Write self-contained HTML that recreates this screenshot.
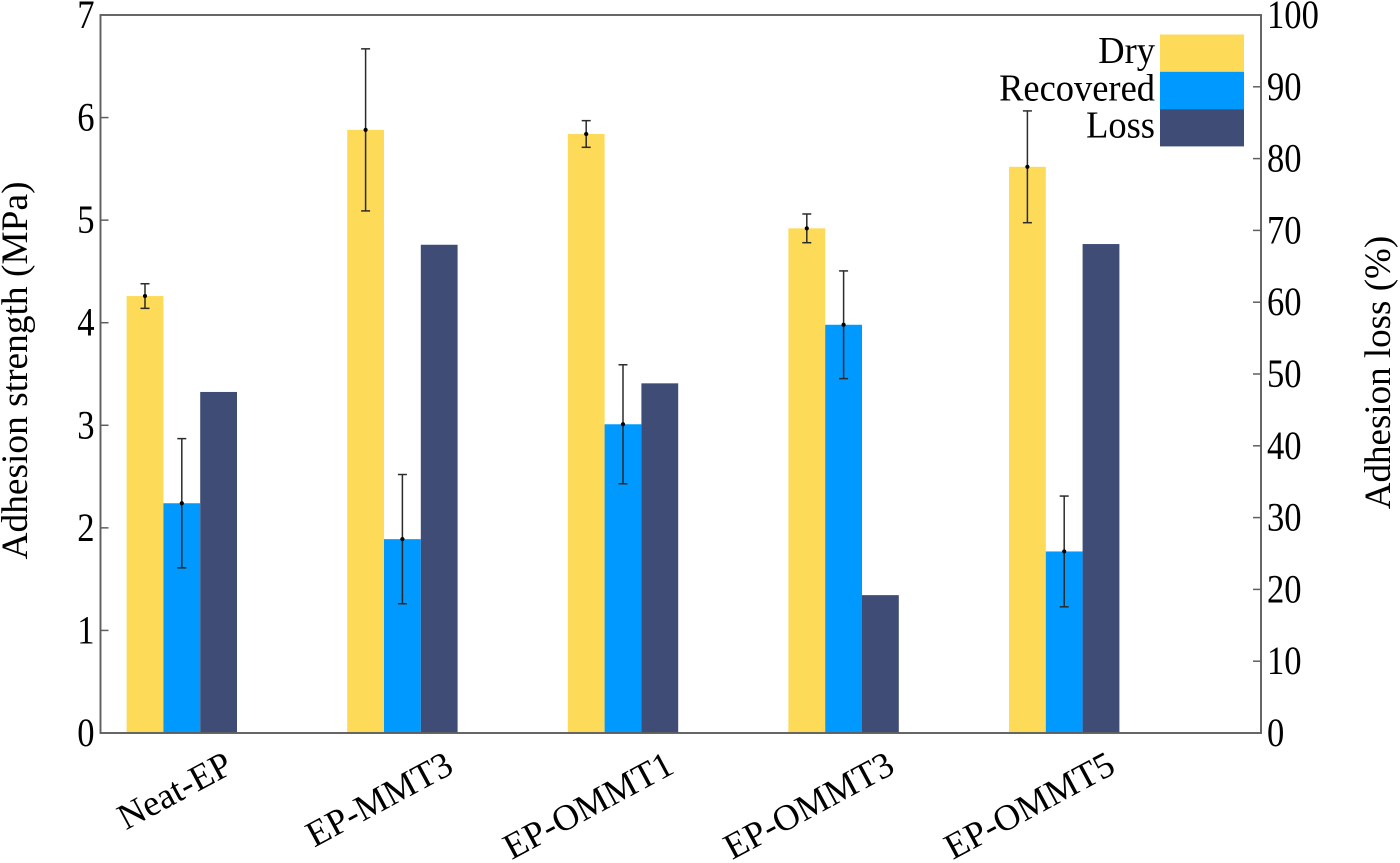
<!DOCTYPE html>
<html>
<head>
<meta charset="utf-8">
<style>
html,body{margin:0;padding:0;background:#fff;width:1400px;height:863px;overflow:hidden}
svg{display:block}
text{font-family:"Liberation Serif",serif;fill:#000}
</style>
</head>
<body>
<svg id="chart" width="1400" height="863" viewBox="0 0 1400 863" xmlns="http://www.w3.org/2000/svg"></svg>
<script>
const categories = ["Neat-EP", "EP-MMT3", "EP-OMMT1", "EP-OMMT3", "EP-OMMT5"];
const dryValues = [4.26, 5.88, 5.84, 4.92, 5.52];
const dryErrors = [0.12, 0.79, 0.13, 0.14, 0.545];
const recoveredValues = [2.24, 1.89, 3.01, 3.98, 1.77];
const recoveredErrors = [0.63, 0.63, 0.58, 0.525, 0.54];
const lossValues = [47.5, 68.0, 48.7, 19.2, 68.1];
const leftTicks = [0, 1, 2, 3, 4, 5, 6, 7];
const rightTicks = [0, 10, 20, 30, 40, 50, 60, 70, 80, 90, 100];
const legendLabels = ["Dry", "Recovered", "Loss"];

const svg = document.getElementById('chart');
const NS = 'http://www.w3.org/2000/svg';
const left = 100.5, right = 1261, top_ = 15, bottom = 733;
const yL = v => bottom - v / 7 * (bottom - top_);
const yR = v => bottom - v / 100 * (bottom - top_);
const xC = i => 181.8 + 220.6 * i;
const barW = 36.8;
const colors = ["#FDDA58", "#0099FF", "#3F4C75"];
const axisColor = "#5f5f5f";

function mk(tag, attrs, parent) {
  const el = document.createElementNS(NS, tag);
  for (const k in attrs) el.setAttribute(k, attrs[k]);
  (parent || svg).appendChild(el);
  return el;
}

categories.forEach((c, i) => {
  const slug = c.toLowerCase();
  const d = mk('rect', {x: xC(i) - 1.5 * barW, y: yL(dryValues[i]), width: barW, height: bottom - yL(dryValues[i]), fill: colors[0]});
  
  
  const r = mk('rect', {x: xC(i) - 0.5 * barW, y: yL(recoveredValues[i]), width: barW, height: bottom - yL(recoveredValues[i]), fill: colors[1]});
  
  
  const l = mk('rect', {x: xC(i) + 0.5 * barW, y: yR(lossValues[i]), width: barW, height: bottom - yR(lossValues[i]), fill: colors[2]});
  
  
});

function errorBar(cx, value, err, name) {
  const g = mk('g', {stroke: '#2b2b2b', 'stroke-width': 1.5, fill: 'none'});
  
  
  mk('line', {x1: cx, x2: cx, y1: yL(value + err), y2: yL(value - err)}, g);
  mk('line', {x1: cx - 4.5, x2: cx + 4.5, y1: yL(value + err), y2: yL(value + err)}, g);
  mk('line', {x1: cx - 4.5, x2: cx + 4.5, y1: yL(value - err), y2: yL(value - err)}, g);
  mk('circle', {cx: cx, cy: yL(value), r: 2.1, fill: '#000', stroke: 'none'}, g);
}
categories.forEach((c, i) => {
  const slug = c.toLowerCase();
  errorBar(xC(i) - barW, dryValues[i], dryErrors[i], 'error-bar-dry-' + slug);
  errorBar(xC(i), recoveredValues[i], recoveredErrors[i], 'error-bar-recovered-' + slug);
});

const frame = mk('rect', {x: left, y: top_, width: right - left, height: bottom - top_, fill: 'none', stroke: axisColor, 'stroke-width': 1.9});



leftTicks.forEach(t => {
  const y = yL(t);
  if (t > 0 && t < 7) {
    const m = mk('line', {x1: left, x2: left + 8, y1: y, y2: y, stroke: axisColor, 'stroke-width': 1.5});
    
    
  }
  const tx = mk('text', {x: 0, y: 0, 'text-anchor': 'end', 'font-size': 40, transform: 'translate(94.5 ' + (y + 13) + ') scale(0.865 1)'});
  tx.textContent = t;
  
  
});

rightTicks.forEach(t => {
  const y = yR(t);
  if (t > 0 && t < 100) {
    const m = mk('line', {x1: right - 8, x2: right, y1: y, y2: y, stroke: axisColor, 'stroke-width': 1.5});
    
    
  }
  const tx = mk('text', {x: 0, y: 0, 'text-anchor': 'start', 'font-size': 40, transform: 'translate(1267 ' + (y + 13) + ') scale(0.865 1)'});
  tx.textContent = t;
  
  
});

categories.forEach((c, i) => {
  const x = xC(i) + 53, y = 772;
  const tx = mk('text', {x: 0, y: 0, 'text-anchor': 'end', 'font-size': 36.5, transform: 'translate(' + x + ' ' + y + ') rotate(-28.2)'});
  tx.textContent = c;
  
  
});

const yLeftTitle = mk('text', {x: 0, y: 0, 'text-anchor': 'middle', 'font-size': 37.4, transform: 'translate(27 370.5) rotate(-90)'});
yLeftTitle.textContent = 'Adhesion strength (MPa)';



const yRightTitle = mk('text', {x: 0, y: 0, 'text-anchor': 'middle', 'font-size': 37, transform: 'translate(1390 372.5) rotate(-90)'});
yRightTitle.textContent = 'Adhesion loss (%)';



legendLabels.forEach((lab, i) => {
  const y = 34.5 + i * 37.3;
  const s = mk('rect', {x: 1160, y: y, width: 84, height: 37.3, fill: colors[i]});
  
  
  const t = mk('text', {x: 0, y: 0, 'text-anchor': 'end', 'font-size': 38, transform: 'translate(1155 ' + (y + 28.5) + ') scale(0.96 1)'});
  t.textContent = lab;
  
  
});
</script>
</body>
</html>
